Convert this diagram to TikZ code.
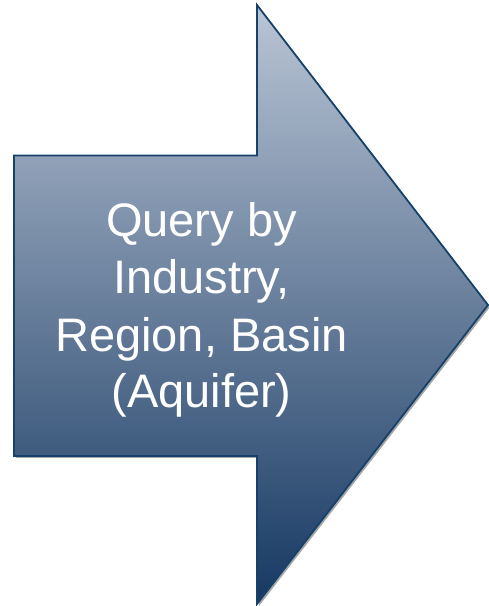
\documentclass[tikz,border=0pt]{standalone}
\usepackage{fontspec}
\setmainfont{Liberation Sans}
\definecolor{topc}{RGB}{186,197,213}
\definecolor{midc}{RGB}{120,135,160}
\definecolor{botc}{RGB}{22,56,98}
\definecolor{edgec}{RGB}{22,66,106}
\definecolor{shadowc}{RGB}{165,165,165}
\tikzset{
  arrowedge/.style={draw=edgec, line width=1.8pt, line join=miter},
  arrowfill/.style={top color=topc, middle color=midc, bottom color=botc},
  arrowshadow/.style={fill=shadowc},
  label/.style={text=white, font=\fontsize{47}{57}\selectfont, anchor=base, inner sep=0pt}
}
\begin{document}
\begin{tikzpicture}[x=1pt,y=1pt]
\useasboundingbox (0,0) rectangle (489,606);
\coordinate (A) at (14,450.5);
\coordinate (B) at (257,450.5);
\coordinate (C) at (257,601);
\coordinate (D) at (488,301);
\coordinate (E) at (257,2);
\coordinate (F) at (257,150);
\coordinate (G) at (14,150);
\fill[arrowshadow] ([shift={(2,-2)}]A) -- ([shift={(2,-2)}]B) -- ([shift={(2,-2)}]C) -- ([shift={(2,-2)}]D) -- ([shift={(2,-2)}]E) -- ([shift={(2,-2)}]F) -- ([shift={(2,-2)}]G) -- cycle;
\shade[arrowfill] (A) -- (B) -- (C) -- (D) -- (E) -- (F) -- (G) -- cycle;
\draw[arrowedge] (A) -- (B) -- (C) -- (D) -- (E) -- (F) -- (G) -- cycle;
\node[label] (l1) at (201.5,369) {Query by};
\node[label] (l2) at (201.5,312) {Industry,};
\node[label] (l3) at (201.5,254) {Region, Basin};
\node[label] (l4) at (201.5,198) {(Aquifer)};
\end{tikzpicture}
\end{document}
